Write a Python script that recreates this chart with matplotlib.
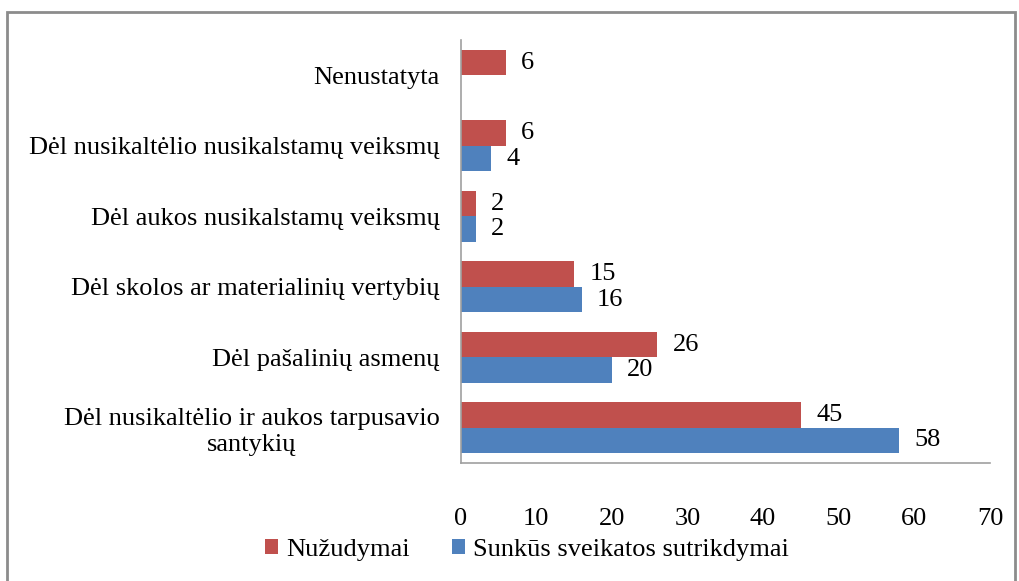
import matplotlib.pyplot as plt
import numpy as np
from matplotlib.patches import Rectangle

categories = ["Dėl nusikaltėlio ir aukos tarpusavio\nsantykių",
              "Dėl pašalinių asmenų",
              "Dėl skolos ar materialinių vertybių",
              "Dėl aukos nusikalstamų veiksmų",
              "Dėl nusikaltėlio nusikalstamų veiksmų",
              "Nenustatyta"]
nuzudymai = [45, 26, 15, 2, 6, 6]
sunkus = [58, 20, 16, 2, 4, None]

red = '#C0504D'
blue = '#4F81BD'

plt.rcParams['font.family'] = ['Liberation Serif', 'DejaVu Serif']

fig = plt.figure(figsize=(10.19, 5.81), dpi=100)
ax = fig.add_axes([0.452, 0.203, 0.5195, 0.728])

y = np.arange(len(categories))
h = 0.36
red_vals = [v if v is not None else 0 for v in nuzudymai]
blue_vals = [v if v is not None else 0 for v in sunkus]
ax.barh(y + h / 2, red_vals, height=h, color=red, label='Nužudymai')
ax.barh(y - h / 2, blue_vals, height=h, color=blue, label='Sunkūs sveikatos sutrikdymai')

fs = 19
for i in range(len(categories)):
    if nuzudymai[i] is not None:
        ax.annotate(str(nuzudymai[i]), (nuzudymai[i], y[i] + h / 2), xytext=(11, 0),
                    textcoords='offset points', va='center', ha='left', fontsize=fs)
    if sunkus[i] is not None:
        ax.annotate(str(sunkus[i]), (sunkus[i], y[i] - h / 2), xytext=(11, 0),
                    textcoords='offset points', va='center', ha='left', fontsize=fs)

ax.set_xlim(0, 70)
ax.set_ylim(-0.5, len(categories) - 0.5)
ax.set_xticks(range(0, 71, 10))
ax.set_yticks(y)
ax.set_yticklabels(categories, fontsize=fs)
ax.tick_params(axis='y', length=0, pad=15)
ax.tick_params(axis='x', length=0, pad=32, labelsize=fs)
for lbl in ax.get_yticklabels():
    lbl.set_multialignment('center')

for s in ['top', 'right']:
    ax.spines[s].set_visible(False)
for s in ['left', 'bottom']:
    ax.spines[s].set_color('#A0A0A0')
    ax.spines[s].set_linewidth(1.2)

ax.legend(loc='center', bbox_to_anchor=(527 / 1019, 1 - 550 / 581), bbox_transform=fig.transFigure,
          ncol=2, frameon=False, fontsize=fs, handlelength=0.5, handleheight=0.5,
          handletextpad=0.3, columnspacing=1.6, borderpad=0)

fig.patches.append(Rectangle((7 / 1019, -0.01), 1008 / 1019, 1 - 12 / 581 + 0.01,
                             transform=fig.transFigure, fill=False,
                             edgecolor='#8C8C8C', linewidth=2))

fig.savefig('out.png', dpi=100)
